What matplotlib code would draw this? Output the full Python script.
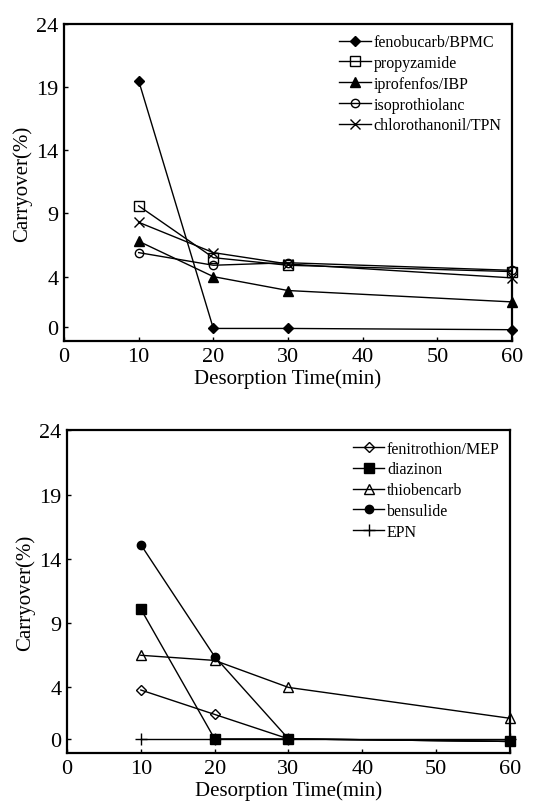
import matplotlib
matplotlib.use("Agg")
import matplotlib.pyplot as plt

plt.rcParams['font.family'] = ['Liberation Serif', 'DejaVu Serif']

# Desorption times (min)
times = [10, 20, 30, 60]

# Upper panel
fenobucarb = [19.5, -0.1, -0.1, -0.2]
propyzamide = [9.6, 5.5, 4.9, 4.4]
iprofenfos = [6.8, 4.0, 2.9, 2.0]
isoprothiolane = [5.9, 4.9, 5.1, 4.5]
chlorothalonil = [8.3, 5.9, 5.0, 3.9]

# Lower panel
fenitrothion = [3.8, 1.9, 0.0, -0.2]
diazinon = [10.1, 0.0, 0.0, -0.2]
thiobencarb = [6.5, 6.1, 4.0, 1.6]
bensulide = [15.1, 6.4, 0.0, -0.2]
epn = [0.0, 0.0, 0.0, 0.0]

yticks = [0, 4, 9, 14, 19, 24]
xticks = [0, 10, 20, 30, 40, 50, 60]

fig = plt.figure(figsize=(5.49, 8.03), dpi=100)
ax1 = fig.add_axes([0.1166, 0.574, 0.816, 0.395])
ax2 = fig.add_axes([0.122, 0.061, 0.807, 0.402])

top_series = [
    (fenobucarb, 'D', 'k', 'fenobucarb/BPMC', 5),
    (propyzamide, 's', 'none', 'propyzamide', 7),
    (iprofenfos, '^', 'k', 'iprofenfos/IBP', 7),
    (isoprothiolane, 'o', 'none', 'isoprothiolanc', 6),
    (chlorothalonil, 'x', 'k', 'chlorothanonil/TPN', 7),
]
bottom_series = [
    (fenitrothion, 'D', 'none', 'fenitrothion/MEP', 5),
    (diazinon, 's', 'k', 'diazinon', 7),
    (thiobencarb, '^', 'none', 'thiobencarb', 7),
    (bensulide, 'o', 'k', 'bensulide', 6),
    (epn, '+', 'k', 'EPN', 8),
]

for ax, series in [(ax1, top_series), (ax2, bottom_series)]:
    for vals, m, fc, lab, ms in series:
        ax.plot(times, vals, color='k', lw=1.0, marker=m, markersize=ms,
                markerfacecolor=fc, markeredgecolor='k', markeredgewidth=1.0,
                label=lab, clip_on=False)
    ax.set_xlim(0, 60)
    ax.set_ylim(-1.1, 24)
    ax.set_xticks(xticks)
    ax.set_yticks(yticks)
    ax.tick_params(direction='in', length=3, width=1, labelsize=16, pad=4)
    for sp in ax.spines.values():
        sp.set_linewidth(1.6)
    ax.set_xlabel('Desorption Time(min)', fontsize=15, labelpad=2)
    ax.set_ylabel('Carryover(%)', fontsize=15, labelpad=3)
    ax.legend(loc='upper right', frameon=False, fontsize=11.5, handlelength=2.0,
              handletextpad=0.15, labelspacing=0.3, borderaxespad=0.25)

fig.savefig('out.png', dpi=100)
